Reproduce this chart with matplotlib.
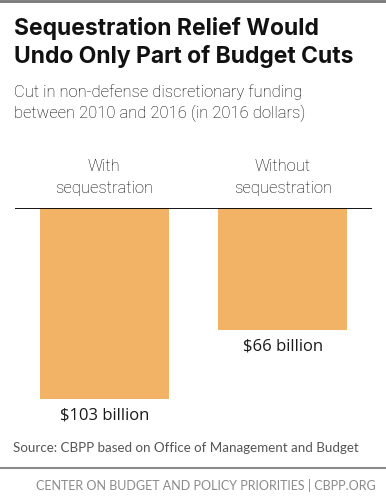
import matplotlib.pyplot as plt
from matplotlib.lines import Line2D

categories = ['With\nsequestration', 'Without\nsequestration']
cuts = [103, 66]
value_labels = ['$103 billion', '$66 billion']

W, H = 386, 501
fig = plt.figure(figsize=(W / 100, H / 100), dpi=100)

def fy(px):
    return 1 - px / H

def fx(px):
    return px / W

# axes spans from the black baseline (y=208px) down to 420px
ax = fig.add_axes([fx(15), fy(420), fx(372) - fx(15), fy(208) - fy(420)])
ax.bar([0, 1], cuts, width=0.72, color='#F2B366')
ax.set_xlim(-0.5, 1.5)
ax.set_ylim(212 / 1.855, 0)
ax.axis('off')
ax.axhline(0, color='black', lw=1.3, xmin=0, xmax=1)

for i, (c, v, lab) in enumerate(zip(categories, cuts, value_labels)):
    ax.text(i, v + 4.5, lab, ha='center', va='top', fontsize=12,
            family='Open Sans', color='#1a1a1a')
    ax.text(i, -6.5, c, ha='center', va='bottom', fontsize=12,
            family='Roboto', fontweight='light', color='#000000',
            linespacing=1.55)

# top border
fig.add_artist(Line2D([0, 1], [fy(1), fy(1)], color='#777777', lw=2))

fig.text(fx(14), fy(28), 'Sequestration Relief Would', fontsize=16.5,
         fontweight='bold', family='Inter', va='center', color='#111111')
fig.text(fx(14), fy(56), 'Undo Only Part of Budget Cuts', fontsize=16.5,
         fontweight='bold', family='Inter', va='center', color='#111111')
fig.text(fx(14), fy(92), 'Cut in non-defense discretionary funding', fontsize=12,
         family='Roboto', fontweight='light', va='center', color='#000000')
fig.text(fx(14), fy(113), 'between 2010 and 2016 (in 2016 dollars)', fontsize=12,
         family='Roboto', fontweight='light', va='center', color='#000000')

fig.text(fx(13), fy(448), 'Source: CBPP based on Office of Management and Budget',
         fontsize=9.6, family='Lato', va='center', color='#555555')
fig.add_artist(Line2D([0, 1], [fy(468), fy(468)], color='#8a8a8a', lw=1.5))
fig.text(fx(376), fy(486), 'CENTER ON BUDGET AND POLICY PRIORITIES | CBPP.ORG',
         fontsize=9, family='Lato', ha='right', va='center', color='#8a8a8a')

fig.savefig('out.png', dpi=100)
